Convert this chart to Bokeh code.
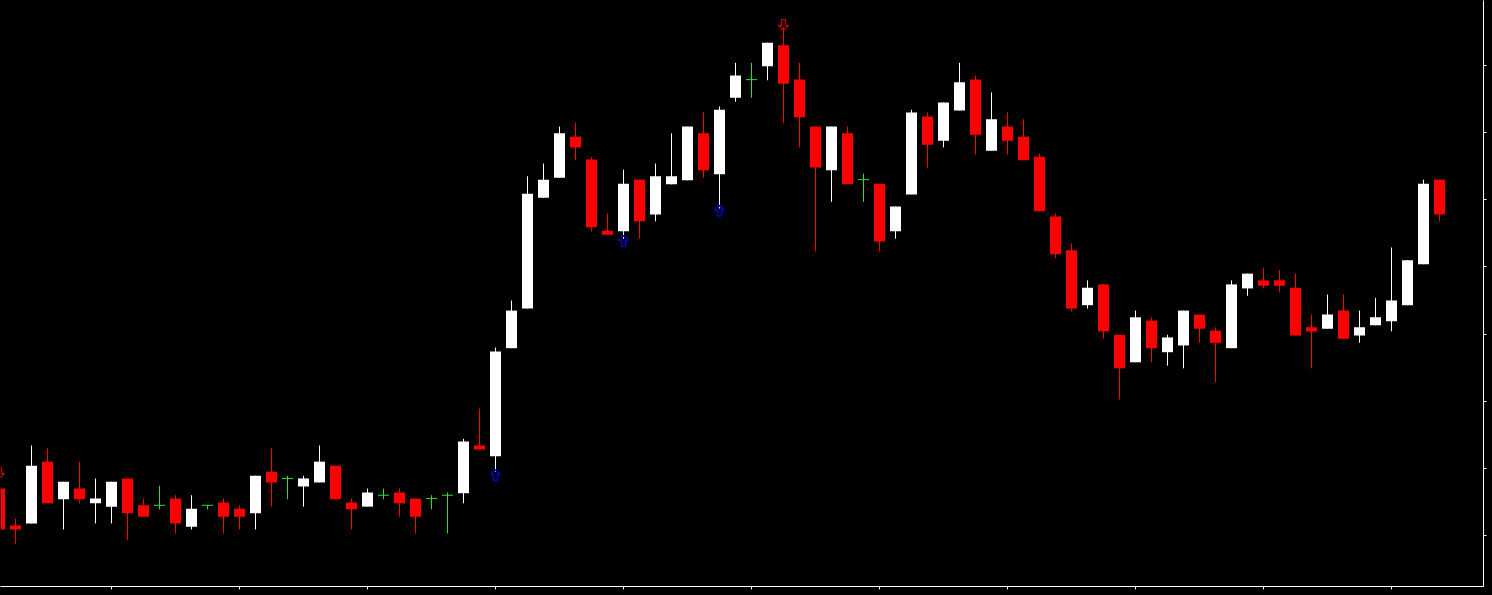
from bokeh.plotting import figure
from bokeh.models import Range1d, LinearAxis, FixedTicker, Label, GlobalInlineStyleSheet
from bokeh.embed import file_html
from bokeh.resources import INLINE

# ---- data (M1 candles) ----
idx = list(range(91))
opens = [147.570, 147.515, 147.518, 147.610, 147.554, 147.570, 147.548, 147.543, 147.585, 147.545,
         147.545, 147.555, 147.513, 147.545, 147.549, 147.540, 147.533, 147.595, 147.585, 147.573,
         147.579, 147.604, 147.549, 147.543, 147.560, 147.564, 147.555, 147.555, 147.560, 147.563,
         147.634, 147.618, 147.779, 147.838, 148.003, 148.033, 148.094, 148.060, 147.954, 147.953,
         148.030, 147.978, 148.023, 148.029, 148.099, 148.038, 148.152, 148.179, 148.199, 148.230,
         148.179, 148.109, 148.044, 148.099, 148.030, 148.024, 147.953, 148.008, 148.124, 148.088,
         148.133, 148.179, 148.073, 148.109, 148.094, 148.064, 147.975, 147.925, 147.843, 147.874,
         147.799, 147.758, 147.820, 147.773, 147.783, 147.829, 147.805, 147.779, 147.868, 147.880,
         147.880, 147.869, 147.810, 147.808, 147.835, 147.798, 147.813, 147.819, 147.843, 147.904,
         148.030]
highs = [147.577, 147.525, 147.634, 147.630, 147.580, 147.610, 147.585, 147.580, 147.585, 147.555,
         147.574, 147.560, 147.560, 147.545, 147.555, 147.545, 147.589, 147.630, 147.589, 147.589,
         147.634, 147.604, 147.555, 147.570, 147.570, 147.570, 147.555, 147.560, 147.564, 147.644,
         147.689, 147.780, 147.850, 148.035, 148.054, 148.109, 148.115, 148.064, 147.980, 148.045,
         148.030, 148.054, 148.099, 148.109, 148.130, 148.139, 148.204, 148.204, 148.234, 148.257,
         148.204, 148.109, 148.109, 148.109, 148.039, 148.024, 147.990, 148.134, 148.130, 148.145,
         148.204, 148.185, 148.160, 148.130, 148.120, 148.069, 147.980, 147.935, 147.880, 147.874,
         147.799, 147.835, 147.825, 147.799, 147.835, 147.829, 147.810, 147.880, 147.890, 147.899,
         147.895, 147.890, 147.829, 147.859, 147.859, 147.835, 147.854, 147.929, 147.910, 148.030,
         148.030]
lows = [147.506, 147.488, 147.518, 147.548, 147.509, 147.548, 147.518, 147.518, 147.493, 147.528,
        147.539, 147.503, 147.509, 147.539, 147.503, 147.509, 147.509, 147.543, 147.554, 147.543,
        147.579, 147.554, 147.509, 147.543, 147.554, 147.528, 147.503, 147.539, 147.503, 147.548,
        147.628, 147.595, 147.779, 147.838, 148.003, 148.033, 148.059, 147.953, 147.948, 147.942,
        147.942, 147.968, 148.023, 148.029, 148.033, 147.987, 148.146, 148.152, 148.178, 148.114,
        148.078, 147.923, 147.997, 148.023, 147.997, 147.923, 147.942, 148.008, 148.048, 148.078,
        148.133, 148.067, 148.073, 148.067, 148.059, 147.983, 147.913, 147.834, 147.838, 147.793,
        147.703, 147.758, 147.758, 147.753, 147.749, 147.787, 147.728, 147.779, 147.857, 147.868,
        147.863, 147.798, 147.749, 147.808, 147.793, 147.787, 147.813, 147.804, 147.843, 147.904,
        147.968]
closes = [147.509, 147.509, 147.604, 147.548, 147.580, 147.554, 147.555, 147.580, 147.533, 147.528,
          147.545, 147.518, 147.540, 147.545, 147.528, 147.528, 147.589, 147.579, 147.585, 147.585,
          147.610, 147.554, 147.539, 147.564, 147.560, 147.548, 147.528, 147.555, 147.560, 147.640,
          147.628, 147.774, 147.835, 148.009, 148.030, 148.099, 148.078, 147.959, 147.948, 148.024,
          147.968, 148.035, 148.035, 148.109, 148.044, 148.134, 148.185, 148.179, 148.234, 148.173,
          148.123, 148.048, 148.109, 148.023, 148.030, 147.938, 147.990, 148.130, 148.082, 148.145,
          148.175, 148.097, 148.120, 148.088, 148.059, 147.983, 147.919, 147.838, 147.869, 147.804,
          147.749, 147.825, 147.779, 147.795, 147.835, 147.808, 147.787, 147.874, 147.890, 147.872,
          147.872, 147.798, 147.804, 147.829, 147.793, 147.810, 147.825, 147.850, 147.910, 148.024,
          147.978]

# signal arrows: candle index and price of the arrow tip
buy_idx = [31, 39, 45]
buy_price = [147.598, 147.947, 147.992]
sell_idx = [0, 49]
sell_price = [147.585, 148.252]

time_ticks = [-1, 7, 15, 23, 31, 39, 47, 55, 63, 71, 79, 87]
time_labels = ["2 Feb 2024", "2 Feb 20:16", "2 Feb 20:24", "2 Feb 20:32", "2 Feb 20:40",
               "2 Feb 20:48", "2 Feb 20:56", "2 Feb 21:04", "2 Feb 21:12", "2 Feb 21:20",
               "2 Feb 21:28", "2 Feb 21:36"]
price_ticks = [147.5, 147.6, 147.7, 147.8, 147.9, 148.0, 148.1, 148.2]

# ---- styles ----
BULL = "#ffffff"
BEAR = "#ff0000"
DOJI = "#33dd33"
BODY_W = 0.6875
PX_X = 1 / 16.0          # x units per pixel
PX_Y = 0.1 / 67.14       # price per pixel
Y0, Y1 = 147.42404, 148.29683

p = figure(width=1492, height=595, output_backend="svg", toolbar_location=None,
           x_range=Range1d(0.0625, 92.75), y_range=Range1d(Y0, Y1),
           x_axis_location=None, y_axis_location=None,
           min_border_left=0, min_border_top=0, min_border_right=9, min_border_bottom=9,
           background_fill_color="#000000", border_fill_color="#000000",
           outline_line_color=None)
p.grid.visible = False
p.stylesheets = [GlobalInlineStyleSheet(css="html,body{margin:0;padding:0;background:#000000;overflow:hidden;}")]

colors = []
for o, c in zip(opens, closes):
    colors.append(DOJI if abs(o - c) < 1e-9 else (BULL if c > o else BEAR))

# wicks
p.segment(x0=idx, y0=lows, x1=idx, y1=highs, line_color=colors, line_width=1)

# bodies
bx, btop, bbot, bcol = [], [], [], []
dx0, dx1, dy = [], [], []
for i, o, c, col in zip(idx, opens, closes, colors):
    if col == DOJI:
        dx0.append(i - BODY_W / 2)
        dx1.append(i + BODY_W / 2)
        dy.append(o)
    else:
        bx.append(i)
        btop.append(max(o, c))
        bbot.append(min(o, c))
        bcol.append(col)
p.vbar(x=bx, width=BODY_W, top=btop, bottom=bbot, fill_color=bcol, line_color=None)
p.segment(x0=dx0, y0=dy, x1=dx1, y1=dy, line_color=DOJI, line_width=1)

# outline arrow shape (pixels from the tip: dx right, dy away from the tip)
ARROW = [(0, 0), (5, 5), (2, 5), (2, 11), (-2, 11), (-2, 5), (-5, 5)]
bxs, bys = [], []
for i, pr in zip(buy_idx, buy_price):
    bxs.append([i + ax * PX_X for ax, ay in ARROW])
    bys.append([pr - ay * PX_Y for ax, ay in ARROW])
p.patches(bxs, bys, fill_color=None, line_color="#0000dd", line_width=1.3)
sxs, sys_ = [], []
for i, pr in zip(sell_idx, sell_price):
    sxs.append([i + ax * PX_X for ax, ay in ARROW])
    sys_.append([pr + ay * PX_Y for ax, ay in ARROW])
p.patches(sxs, sys_, fill_color=None, line_color="#c80000", line_width=1.3)

# axes (their numbers lie beyond the window edge, so only line and ticks show)
xa = LinearAxis(ticker=FixedTicker(ticks=time_ticks[1:], minor_ticks=[]),
                axis_line_color="#ffffff", major_tick_line_color="#ffffff",
                major_tick_in=0, major_tick_out=3, minor_tick_line_color=None,
                major_label_text_font_size="0px", major_label_text_color=None,
                major_label_standoff=0)
p.add_layout(xa, "below")
ya = LinearAxis(ticker=FixedTicker(ticks=price_ticks, minor_ticks=[]),
                axis_line_color="#ffffff", major_tick_line_color="#ffffff",
                major_tick_in=0, major_tick_out=3, minor_tick_line_color=None,
                major_label_text_font_size="0px", major_label_text_color=None,
                major_label_standoff=0)
p.add_layout(ya, "right")

# time labels (cut by the window edge, as in the original)
for t, lab in zip(time_ticks, time_labels):
    p.add_layout(Label(x=t, y=Y0 - 2 * PX_Y, text=lab, text_color="#ffffff",
                       text_font="DejaVu Sans", text_font_size="12px",
                       text_align="left", text_baseline="top"))

# current price tag on the right scale
p.add_layout(Label(x=1485, x_units="screen", y=closes[-1], text=f"{closes[-1]:.3f}",
                   text_color="#000000", text_font="DejaVu Sans", text_font_size="11px",
                   text_align="left", text_baseline="middle",
                   background_fill_color="#ffffff", padding=3))

open("out.html", "w").write(file_html(p, INLINE))
